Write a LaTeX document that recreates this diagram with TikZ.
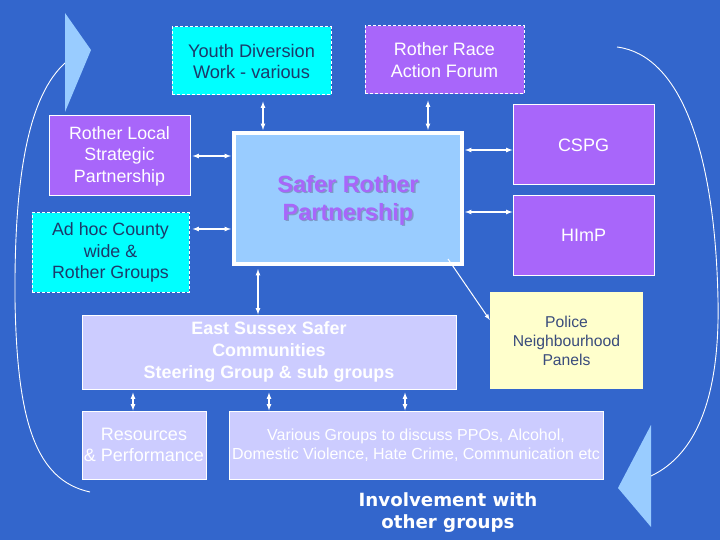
\documentclass[tikz,border=0pt]{standalone}
\usepackage{xcolor}
\usepackage{fontspec}
\setmainfont{Liberation Sans}
\newfontfamily\verdfont{DejaVu Sans}
\usepackage{tikz}
\usetikzlibrary{shapes,arrows}
\definecolor{slidebg}{HTML}{3366CC}
\definecolor{purp}{HTML}{A866FA}
\definecolor{cyanbox}{HTML}{00FFFF}
\definecolor{skyblue}{HTML}{99CCFF}
\definecolor{lavend}{HTML}{CCCCFF}
\definecolor{paleyel}{HTML}{FFFFCC}
\definecolor{navytxt}{HTML}{1C3A6A}
\definecolor{policetxt}{HTML}{3A4C7C}
\definecolor{shadowtxt}{HTML}{7E9AC8}

\begin{document}
\begin{tikzpicture}[x=1pt,y=-1pt,
  box/.style={rectangle,draw=white,line width=1pt,inner sep=0pt,align=center},
  dashbox/.style={box,dashed,dash pattern=on 3pt off 2pt,fill=cyanbox,text=navytxt},
  purpbox/.style={box,fill=purp,text=white},
  lavbox/.style={box,fill=lavend,text=white},
  link/.style={<->,>=latex,draw=white,line width=1.2pt},
  bigcurve/.style={draw=white,line width=0.9pt}]
\useasboundingbox[fill=slidebg] (0,0) rectangle (720,540);
%
\node[dashbox,minimum width=159,minimum height=68,font=\fontsize{18.2}{21}\selectfont] (youth) at (251.5,61) {Youth Diversion\\Work - various};
\node[purpbox,dashed,dash pattern=on 3pt off 2pt,minimum width=159,minimum height=68,font=\fontsize{18}{22}\selectfont] (race) at (444.5,60) {Rother Race\\Action Forum};
\node[purpbox,minimum width=141,minimum height=80,font=\fontsize{17.8}{21.5}\selectfont] (rlsp) at (119.5,156) {Rother Local\\Strategic\\Partnership};
\node[dashbox,minimum width=157,minimum height=79,font=\fontsize{17.8}{21.5}\selectfont] (adhoc) at (110.5,252.5) {Ad hoc County\\wide \&\\Rother Groups};
%
\node[box,line width=4pt,fill=skyblue,minimum width=228,minimum height=131] (safer) at (348,198.5) {};
\node[text=shadowtxt,align=center,font=\bfseries\fontsize{23.5}{28}\selectfont] at (349.5,201.5) {Safer Rother\\Partnership};
\node[text=purp,align=center,font=\bfseries\fontsize{23.5}{28}\selectfont] (safertxt) at (348,200) {Safer Rother\\Partnership};
%
\node[purpbox,minimum width=141,minimum height=80,font=\fontsize{18}{20}\selectfont] (cspg) at (583.5,145) {CSPG};
\node[purpbox,minimum width=141,minimum height=79,font=\fontsize{18}{20}\selectfont] (himp) at (583.5,235.5) {HImP};
\node[rectangle,fill=paleyel,text=policetxt,align=center,minimum width=153,minimum height=97,font=\fontsize{15.7}{19}\selectfont] (police) at (566.5,340.5) {Police\\Neighbourhood\\Panels};
%
\node[lavbox,minimum width=374,minimum height=74,font=\bfseries\fontsize{17.9}{22}\selectfont] (essc) at (269,352) {East Sussex Safer\\Communities\\Steering Group \& sub groups};
\node[lavbox,minimum width=124,minimum height=68,font=\fontsize{18}{21}\selectfont] (res) at (144,445) {Resources\\\& Performance};
\node[lavbox,minimum width=374,minimum height=68,font=\fontsize{16}{19.5}\selectfont] (various) at (416,445) {Various Groups to discuss PPOs, Alcohol,\\Domestic Violence, Hate Crime, Communication etc};
\node[text=white,align=center,font=\verdfont\bfseries\fontsize{18.2}{22}\selectfont] (invol) at (448,513) {Involvement with\\other groups};
%
\draw[link,shorten <=6pt,shorten >=1pt] ([xshift=11.5]youth.south) -- ([xshift=11.5]youth.south |- safer.north);
\draw[link,shorten <=6pt,shorten >=1pt] ([xshift=-16.5]race.south) -- ([xshift=-16.5]race.south |- safer.north);
\draw[link,shorten <=2pt,shorten >=1pt] (rlsp.east) -- (rlsp.east -| safer.west);
\draw[link,shorten <=3pt,shorten >=1pt] ([yshift=23.5]adhoc.east) -- ([yshift=23.5]adhoc.east -| safer.west);
\draw[link,shorten <=1pt] ([yshift=-5]cspg.west -| safer.east) -- ([yshift=-5]cspg.west);
\draw[link,shorten <=1pt] ([yshift=23.5]himp.west -| safer.east) -- ([yshift=23.5]himp.west);
\draw[link,shorten <=3pt] ([xshift=-11]essc.north |- safer.south) -- ([xshift=-11]essc.north);
\draw[link,shorten <=3pt] ([xshift=-11]res.north |- essc.south) -- ([xshift=-11]res.north);
\draw[link,shorten <=3pt] ([xshift=-147]various.north |- essc.south) -- ([xshift=-147]various.north);
\draw[link,shorten <=3pt] ([xshift=-11]various.north |- essc.south) -- ([xshift=-11]various.north);
\draw[->,>=latex,draw=white,line width=1pt] ([xshift=-16,yshift=7]safer.south east) -- ([yshift=20.5]police.west);
%
\draw[bigcurve] (90,492) .. controls (35,480) and (17,420) .. (15,300) .. controls (14,170) and (30,95) .. (65,63);
\fill[skyblue] (65,13) -- (91,50) -- (65,112) -- cycle;
\draw[bigcurve] (617,47) .. controls (680,55) and (715,150) .. (718,300) .. controls (720,400) and (695,455) .. (651,476);
\fill[skyblue] (651,425) -- (618,488) -- (651,527) -- cycle;
\end{tikzpicture}
\end{document}
